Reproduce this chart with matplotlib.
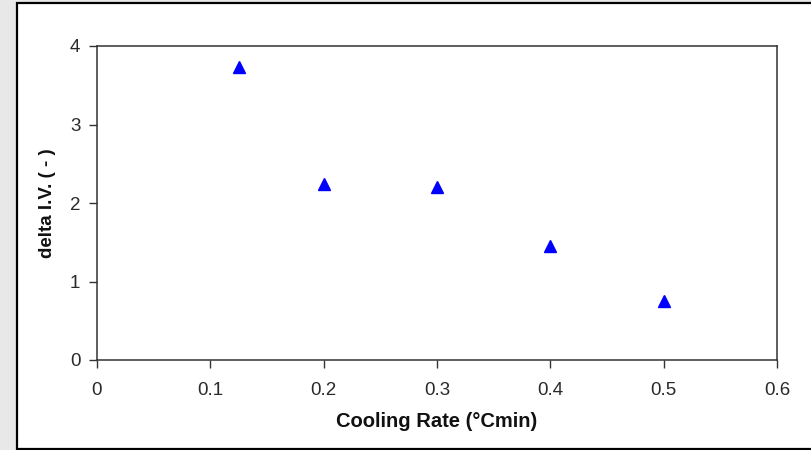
import matplotlib
matplotlib.use("Agg")
import matplotlib.pyplot as plt
from matplotlib.patches import Rectangle

# Measured data
cooling_rate = [0.125, 0.2, 0.3, 0.4, 0.5]
delta_iv = [3.73, 2.24, 2.20, 1.45, 0.75]

x_ticks = [0, 0.1, 0.2, 0.3, 0.4, 0.5, 0.6]
x_tick_labels = ["0", "0.1", "0.2", "0.3", "0.4", "0.5", "0.6"]
y_ticks = [0, 1, 2, 3, 4]
y_tick_labels = ["0", "1", "2", "3", "4"]

plt.rcParams["font.family"] = ["Liberation Sans", "DejaVu Sans"]

W, H = 812, 450
fig = plt.figure(figsize=(W / 100, H / 100), dpi=100)
fig.patch.set_facecolor("#e8e8e8")

# White chart area with a dark frame
frame = Rectangle((17 / W, 1.5 / H), 1 - 17 / W + 0.01, 1 - 4.5 / H,
                  transform=fig.transFigure, facecolor="white",
                  edgecolor="black", linewidth=1.6, zorder=-10)
fig.patches.append(frame)

ax = fig.add_axes([97 / W, 1 - 360 / H, (777 - 97) / W, (360 - 46) / H])
ax.set_facecolor("white")
ax.set_zorder(5)

ax.plot(cooling_rate, delta_iv, linestyle="none", marker="^",
        markersize=9, color="#0000ff", markeredgecolor="#0000ff")

ax.set_xlim(0, 0.6)
ax.set_ylim(0, 4)
ax.set_xticks(x_ticks)
ax.set_xticklabels(x_tick_labels)
ax.set_yticks(y_ticks)
ax.set_yticklabels(y_tick_labels)

for s in ax.spines.values():
    s.set_color("#333333")
    s.set_linewidth(1.1)

ax.tick_params(axis="both", direction="out", length=6, width=1.0,
               color="#333333", labelsize=13.5, labelcolor="#2a2a2a")
ax.tick_params(axis="x", pad=10)
ax.tick_params(axis="y", pad=6)

ax.set_xlabel("Cooling Rate (°Cmin)", fontsize=14.5, fontweight="bold",
              color="#111111", labelpad=9)
ax.set_ylabel("delta I.V. ( - )", fontsize=13.5, fontweight="bold",
              color="#111111", labelpad=10)

fig.savefig("out.png", dpi=100, facecolor=fig.get_facecolor())
